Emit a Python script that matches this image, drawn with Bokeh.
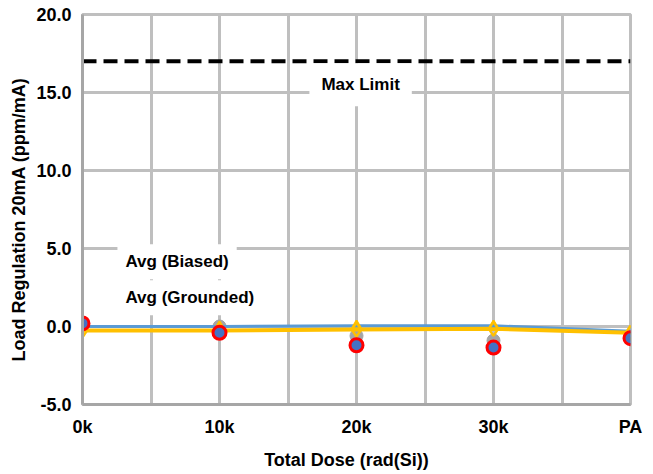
from bokeh.plotting import figure
from bokeh.models import Label, FixedTicker, ColumnDataSource
from bokeh.embed import file_html
from bokeh.resources import INLINE

x_labels = ["0k", "10k", "20k", "30k", "PA"]
x_pos = [0, 1, 2, 3, 4]
biased_units = [0.1, 0.0, -0.6, -0.9, -0.7]
grounded_units = [0.2, -0.4, -1.2, -1.35, -0.75]
avg_biased = [0.0, 0.0, 0.05, 0.05, -0.3]
avg_grounded = [-0.25, -0.25, -0.2, -0.15, -0.4]
max_limit = 17.0
y_ticks = [-5, 0, 5, 10, 15, 20]

FONT = "Liberation Sans"
GRID = "#BFBFBF"
FS = "18px"
NB = "\u00a0" * 4

p = figure(width=645, height=474, x_range=(0, 4), y_range=(-5, 20),
           output_backend="svg", toolbar_location=None,
           min_border_left=82, min_border_right=15, min_border_top=14, min_border_bottom=70)
p.outline_line_color = GRID
p.outline_line_width = 3
p.background_fill_color = "white"

p.xaxis.ticker = FixedTicker(ticks=x_pos)
p.xaxis.major_label_overrides = {i: s for i, s in zip(x_pos, x_labels)}
p.yaxis.ticker = FixedTicker(ticks=y_ticks)
p.yaxis.major_label_overrides = {v: f"{v:.1f}" for v in y_ticks}

for ax in (p.xaxis[0], p.yaxis[0]):
    ax.major_label_text_font = FONT
    ax.major_label_text_font_style = "bold"
    ax.major_label_text_font_size = FS
    ax.major_label_text_color = "black"
    ax.axis_label_text_font = FONT
    ax.axis_label_text_font_style = "bold"
    ax.axis_label_text_font_size = FS
    ax.axis_label_text_color = "black"
    ax.axis_line_color = "#A6A6A6"
    ax.axis_line_width = 3
    ax.major_tick_line_color = None
    ax.minor_tick_line_color = None
p.xaxis.axis_label = "Total Dose (rad(Si))" + NB
p.yaxis.axis_label = "Load Regulation 20mA (ppm/mA)" + NB
p.xaxis.major_label_standoff = 6
p.xaxis.axis_label_standoff = 10
p.yaxis.major_label_standoff = 5
p.yaxis.axis_label_standoff = 4

p.xgrid.ticker = FixedTicker(ticks=[0.5 * i for i in range(9)])
p.ygrid.ticker = FixedTicker(ticks=y_ticks)
for g in (p.xgrid[0], p.ygrid[0]):
    g.grid_line_color = GRID
    g.grid_line_width = 3

# max limit
p.line([0, 4], [max_limit, max_limit], line_color="black", line_width=4, line_dash="14 7")


def lab(x, y, text, anchor="left", pad=8):
    p.add_layout(Label(x=x, y=y, text=text,
                       text_font=FONT, text_font_style="bold", text_font_size="17px",
                       text_color="black",
                       text_align=anchor, text_baseline="middle",
                       background_fill_color="white", border_line_color=None,
                       padding=pad))


src = ColumnDataSource(dict(x=x_pos, bu=biased_units, gu=grounded_units,
                            ab=avg_biased, ag=avg_grounded))

p.scatter("x", "bu", source=src, size=13, marker="circle", fill_color="#A5A5A5", line_color="#A5A5A5")
p.line("x", "ab", source=src, line_color="#5B9BD5", line_width=3)
p.line("x", "ag", source=src, line_color="#FFC000", line_width=4)
p.scatter("x", "ab", source=src, size=9, marker="triangle", fill_color="#5B9BD5", line_color="#FFC000", line_width=2)
p.scatter("x", "ag", source=src, size=14, marker="diamond", fill_color=None, line_color="#FFC000", line_width=2.5)
p.scatter("x", "gu", source=src, size=13, marker="circle", fill_color="#4472C4", line_color="#FF0000", line_width=3)

lab(2.03, 15.5, "Max Limit", "center", 12)
lab(0.255, 4.15, "Avg (Biased)")
lab(0.255, 1.85, "Avg (Grounded)")

open("out.html", "w").write(file_html(p, INLINE))
